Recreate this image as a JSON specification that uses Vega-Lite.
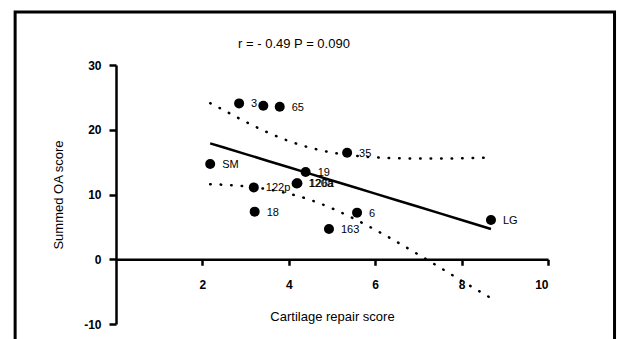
{
  "$schema": "https://vega.github.io/schema/vega-lite/v6.json",
  "autosize": {"type": "none"},
  "padding": {"left": 116, "top": 65, "right": 69, "bottom": 15},
  "width": 432,
  "height": 259,
  "background": "white",
  "config": {
    "view": {"stroke": null},
    "font": "Liberation Sans",
    "axis": {
      "grid": false,
      "domainColor": "black",
      "domainWidth": 2.5,
      "tickColor": "black",
      "tickWidth": 2.5,
      "labelFont": "Liberation Sans",
      "labelFontWeight": "bold",
      "labelFontSize": 12,
      "labelColor": "black",
      "titleFont": "Liberation Sans",
      "titleFontWeight": "normal",
      "titleFontSize": 13,
      "titleColor": "black"
    }
  },
  "datasets": {
    "frame": [{"panel": "A"}],
    "stats": [{"label": "r = - 0.49 P = 0.090"}],
    "pts": [
      {"repair": 2.18, "oa": 14.7, "id": "SM"},
      {"repair": 2.85, "oa": 24.07, "id": "3"},
      {"repair": 3.41, "oa": 23.7, "id": ""},
      {"repair": 3.79, "oa": 23.55, "id": "65"},
      {"repair": 5.35, "oa": 16.45, "id": "35"},
      {"repair": 4.39, "oa": 13.47, "id": "19"},
      {"repair": 4.18, "oa": 11.7, "id": "120a"},
      {"repair": 4.2, "oa": 11.75, "id": "126a"},
      {"repair": 3.19, "oa": 11.1, "id": "122p"},
      {"repair": 3.21, "oa": 7.35, "id": "18"},
      {"repair": 5.58, "oa": 7.2, "id": "6"},
      {"repair": 4.93, "oa": 4.68, "id": "163"},
      {"repair": 8.68, "oa": 6.06, "id": "LG"}
    ],
    "fit": [
      {"repair": 2.18, "fit": 17.9, "lo": 11.6, "hi": 24.1},
      {"repair": 2.5, "fit": 17.25, "lo": 11.5, "hi": 23.0},
      {"repair": 3.0, "fit": 16.24, "lo": 11.25, "hi": 21.23},
      {"repair": 3.5, "fit": 15.22, "lo": 10.82, "hi": 19.62},
      {"repair": 4.0, "fit": 14.2, "lo": 10.14, "hi": 18.26},
      {"repair": 4.5, "fit": 13.19, "lo": 9.16, "hi": 17.22},
      {"repair": 5.0, "fit": 12.17, "lo": 7.86, "hi": 16.48},
      {"repair": 5.5, "fit": 11.15, "lo": 6.29, "hi": 16.01},
      {"repair": 6.0, "fit": 10.14, "lo": 4.55, "hi": 15.73},
      {"repair": 6.5, "fit": 9.12, "lo": 2.68, "hi": 15.6},
      {"repair": 7.0, "fit": 8.1, "lo": 0.72, "hi": 15.55},
      {"repair": 7.5, "fit": 7.08, "lo": -1.28, "hi": 15.55},
      {"repair": 8.0, "fit": 6.07, "lo": -3.32, "hi": 15.6},
      {"repair": 8.68, "fit": 4.68, "lo": -6.0, "hi": 15.7}
    ]
  },
  "layer": [
    {
      "data": {"name": "frame"},
      "mark": {"type": "rect", "filled": false, "stroke": "black", "strokeWidth": 3, "clip": false},
      "encoding": {
        "x": {"datum": -2.335, "type": "quantitative", "scale": {"domain": [0, 10], "nice": false}},
        "x2": {"datum": 11.54},
        "y": {"datum": 38.2, "type": "quantitative", "scale": {"domain": [-10, 30], "nice": false}},
        "y2": {"datum": -14}
      }
    },
    {
      "data": {"name": "stats"},
      "mark": {"type": "text", "align": "center", "baseline": "middle", "fontSize": 13, "font": "Liberation Sans", "fill": "black", "clip": false},
      "encoding": {
        "x": {"datum": 4.12, "type": "quantitative"},
        "y": {"datum": 33.2, "type": "quantitative"},
        "text": {"field": "label"}
      }
    },
    {
      "data": {"name": "fit"},
      "mark": {"type": "line", "color": "black", "strokeWidth": 2.5},
      "encoding": {
        "x": {
          "field": "repair", "type": "quantitative",
          "scale": {"domain": [0, 10], "nice": false},
          "axis": {
            "title": "Cartilage repair score",
            "values": [2, 4, 6, 8, 10],
            "offset": -64.75,
            "tickSize": 6,
            "labelPadding": 14,
            "titlePadding": 20,
            "labelExpr": "'' + datum.value"
          }
        },
        "y": {
          "field": "fit", "type": "quantitative",
          "scale": {"domain": [-10, 30], "nice": false},
          "axis": {
            "title": "Summed OA score",
            "values": [-10, 0, 10, 20, 30],
            "tickSize": 7,
            "labelPadding": 8,
            "titlePadding": 18,
            "labelExpr": "'' + datum.value"
          }
        }
      }
    },
    {
      "data": {"name": "fit"},
      "mark": {"type": "line", "color": "black", "strokeWidth": 2.5, "strokeDash": [0.5, 10], "strokeCap": "round", "interpolate": "monotone"},
      "encoding": {
        "x": {"field": "repair", "type": "quantitative"},
        "y": {"field": "lo", "type": "quantitative"}
      }
    },
    {
      "data": {"name": "fit"},
      "mark": {"type": "line", "color": "black", "strokeWidth": 2.5, "strokeDash": [0.5, 10], "strokeCap": "round", "interpolate": "monotone"},
      "encoding": {
        "x": {"field": "repair", "type": "quantitative"},
        "y": {"field": "hi", "type": "quantitative"}
      }
    },
    {
      "data": {"name": "pts"},
      "mark": {"type": "text", "align": "left", "baseline": "middle", "dx": 12, "dy": 1, "fontSize": 11, "font": "Liberation Sans", "fill": "black"},
      "encoding": {
        "x": {"field": "repair", "type": "quantitative"},
        "y": {"field": "oa", "type": "quantitative"},
        "text": {"field": "id"}
      }
    },
    {
      "data": {"name": "pts"},
      "mark": {"type": "point", "filled": true, "color": "black", "opacity": 1, "size": 100},
      "encoding": {
        "x": {"field": "repair", "type": "quantitative"},
        "y": {"field": "oa", "type": "quantitative"}
      }
    }
  ]
}
